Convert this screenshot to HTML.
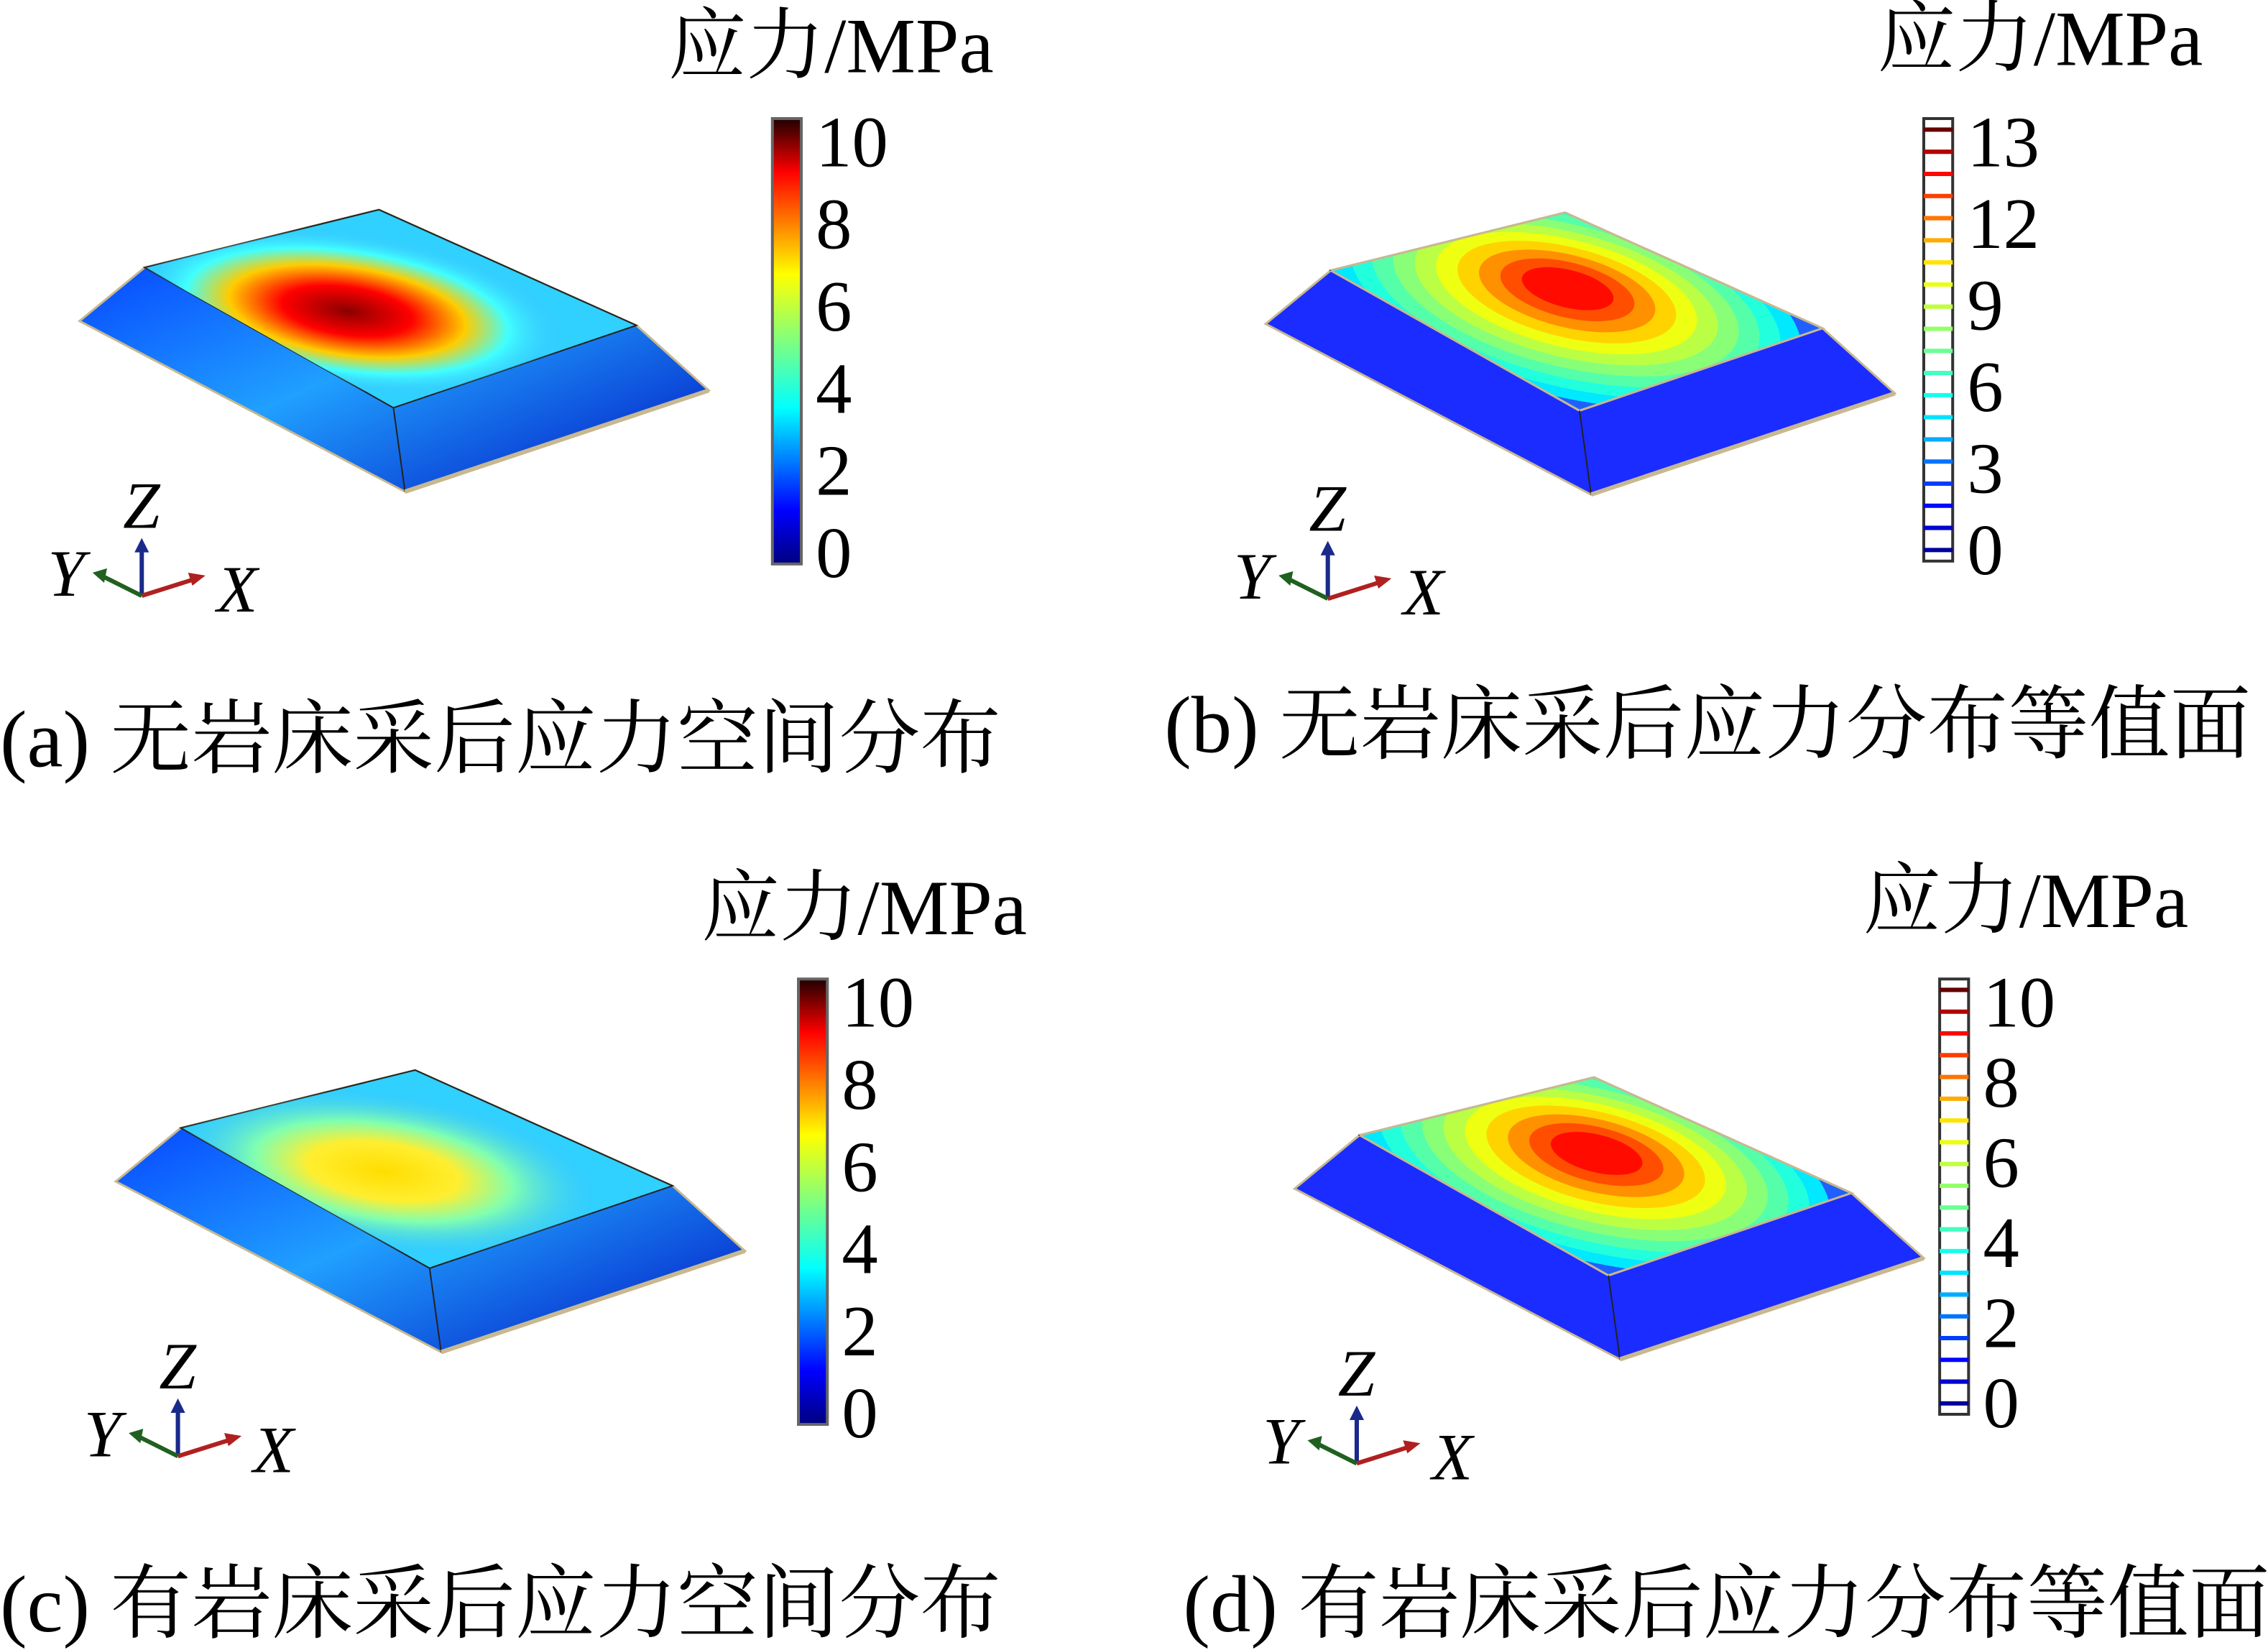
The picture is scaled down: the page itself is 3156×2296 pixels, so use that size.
<!DOCTYPE html>
<html><head><meta charset="utf-8"><style>
html,body{margin:0;padding:0;background:#fff;}
svg{display:block;}
text{font-family:"Liberation Serif","Noto Serif CJK SC","Noto Sans CJK SC",serif;fill:#000;}
</style></head><body>
<svg id="fig" width="3156" height="2296" viewBox="0 0 1568 1141" preserveAspectRatio="none">
<defs>
<linearGradient id="jet" x1="0" y1="1" x2="0" y2="0">
<stop offset="0" stop-color="#00007f"/><stop offset="0.12" stop-color="#0000ff"/><stop offset="0.35" stop-color="#00ffff"/><stop offset="0.5" stop-color="#7fff7f"/><stop offset="0.65" stop-color="#ffff00"/><stop offset="0.88" stop-color="#ff0000"/><stop offset="1" stop-color="#200000"/>
</linearGradient>
<radialGradient id="heatA" cx="0.5" cy="0.5" r="0.5">
<stop offset="0" stop-color="#8b0000"/><stop offset="0.3" stop-color="#ff0000"/><stop offset="0.55" stop-color="#ffcc00"/><stop offset="0.75" stop-color="#40ffff"/><stop offset="1" stop-color="#40c0ff" stop-opacity="0"/>
</radialGradient>
<radialGradient id="heatC" cx="0.5" cy="0.5" r="0.5">
<stop offset="0" stop-color="#ffdd00"/><stop offset="0.35" stop-color="#ffee30"/><stop offset="0.6" stop-color="#80ffb0"/><stop offset="1" stop-color="#40c0ff" stop-opacity="0"/>
</radialGradient>
<linearGradient id="slabA" x1="0" y1="0" x2="1" y2="1">
<stop offset="0" stop-color="#0030ff"/><stop offset="0.5" stop-color="#20a0ff"/><stop offset="1" stop-color="#0010c0"/>
</linearGradient>
<clipPath id="topClip"><polygon points="100,185 262,145 440,225 272,282"/></clipPath>
</defs>
<g id="root"></g>
</svg>
<script>
const panelLabels = ["(a) 无岩床采后应力空间分布","(b) 无岩床采后应力分布等值面","(c) 有岩床采后应力空间分布","(d) 有岩床采后应力分布等值面"];
const ticksA = [0,2,4,6,8,10];
const ticksB = [0,3,6,9,12,13];
const ticksC = [0,2,4,6,8,10];
const ticksD = [0,2,4,6,8,10];
const isoLevels = [0.05,0.15,0.25,0.35,0.45,0.55,0.65,0.75,0.85,0.95];
const NS="http://www.w3.org/2000/svg";
const root=document.getElementById('root');
function mk(tag,attrs,parent){const e=document.createElementNS(NS,tag);for(const k in attrs)e.setAttribute(k,attrs[k]);(parent||root).appendChild(e);return e;}
function jet(t){const s=[[0,[0,0,127]],[0.12,[0,0,255]],[0.35,[0,255,255]],[0.5,[127,255,127]],[0.65,[255,255,0]],[0.88,[255,0,0]],[1,[60,0,0]]];for(let i=1;i<s.length;i++){if(t<=s[i][0]){const a=s[i-1],b=s[i],f=(t-a[0])/(b[0]-a[0]);return 'rgb('+a[1].map((v,j)=>Math.round(v+(b[1][j]-v)*f)).join(',')+')';}}return 'rgb(60,0,0)';}

function panel(ox,oy,cfg){
  const g=mk('g',{transform:'translate('+ox+','+oy+')'});
  
  
  const slab=mk('polygon',{points:'55,222 100,185 262,145 440,225 490,270 280,340',fill:cfg.iso?'#1a2cff':'url(#slabA)',stroke:'#c8b890','stroke-width':'1.5'},g);
  
  
  const top=mk('polygon',{points:'100,185 262,145 440,225 272,282',fill:cfg.iso?'#2060ff':'#30d0ff',stroke:'#222','stroke-width':'1'},g);
  
  
  const inner=mk('g',{'clip-path':'url(#topClip)'},g);
  if(cfg.iso){
    for(let i=0;i<isoLevels.length;i++){
      const f=1-isoLevels[i];
      const e=mk('ellipse',{cx:262,cy:205-isoLevels[i]*8,rx:25+150*f,ry:10+60*f,fill:jet(0.3+isoLevels[i]*0.6),transform:'rotate(14 262 205)'},inner);
      
      
    }
    mk('polyline',{points:'100,185 262,145 440,225 272,282 100,185',fill:'none',stroke:'#c8b890','stroke-width':'1.5'},g);
  } else {
    const h=mk('ellipse',{cx:240,cy:215,rx:150,ry:55,fill:cfg.heat,transform:'rotate(8 240 215)'},inner);
    
    
  }
  mk('line',{x1:272,y1:282,x2:280,y2:340,stroke:'#222','stroke-width':'1'},g);
  mk('line',{x1:280,y1:340,x2:490,y2:270,stroke:'#c8b890','stroke-width':'3'},g);
  const ax=mk('g',{},g);
  
  
  mk('line',{x1:98,y1:412,x2:98,y2:378,stroke:'#1a2a8a','stroke-width':'3'},ax);
  mk('polygon',{points:'93,382 98,372 103,382',fill:'#1a2a8a'},ax);
  mk('line',{x1:98,y1:412,x2:136,y2:400,stroke:'#b02020','stroke-width':'3'},ax);
  mk('polygon',{points:'130,396 142,398 133,405',fill:'#b02020'},ax);
  mk('line',{x1:98,y1:412,x2:70,y2:398,stroke:'#206020','stroke-width':'3'},ax);
  mk('polygon',{points:'74,393 64,396 72,403',fill:'#206020'},ax);
  const tz=mk('text',{x:85,y:365,'font-size':46,'font-style':'italic'},ax);tz.textContent='Z';
  const ty=mk('text',{x:33,y:412,'font-size':46,'font-style':'italic'},ax);ty.textContent='Y';
  const tx=mk('text',{x:150,y:423,'font-size':46,'font-style':'italic'},ax);tx.textContent='X';
}

function colorbar(x,y0,y1,ticks,iso,titleX,titleY,name){
  const g=mk('g',{});
  
  
  const t=mk('text',{x:titleX,y:titleY,'font-size':54},g);t.textContent='应力/MPa';
  
  
  const w=20;
  if(iso){
    mk('rect',{x:x,y:y0,width:w,height:y1-y0,fill:'#fff',stroke:'#333','stroke-width':'2'},g);
    const n=isoLevels.length*2;
    for(let i=0;i<n;i++){const v=(i+0.5)/n;const yy=y1-(y1-y0)*v;
      mk('line',{x1:x,x2:x+w,y1:yy,y2:yy,stroke:jet(v),'stroke-width':'3'},g);}
  } else {
    mk('rect',{x:x,y:y0,width:w,height:y1-y0,fill:'url(#jet)',stroke:'#666','stroke-width':'2'},g);
  }
  const mn=ticks[0],mx=ticks[ticks.length-1];
  const a=y0+16,b=y1-8;
  ticks.forEach((v,i)=>{
    let yy=b-(b-a)*(v-mn)/(mx-mn);
    if(ticks===ticksB){yy=b-(b-a)*(i/(ticks.length-1));}
    const tl=mk('text',{x:x+w+10,y:yy+17,'font-size':50},g);tl.textContent=v;
    
    
  });
}

panel(0,0,{name:'panel-a',heat:'url(#heatA)'});
panel(820,2,{name:'panel-b',iso:true});
panel(25,595,{name:'panel-c',heat:'url(#heatC)'});
panel(840,600,{name:'panel-d',iso:true});
colorbar(534,82,390,ticksA,false,462,50,'colorbar-a');
colorbar(1330,82,388,ticksB,true,1298,45,'colorbar-b');
colorbar(552,677,985,ticksC,false,485,646,'colorbar-c');
colorbar(1341,677,978,ticksD,true,1288,641,'colorbar-d');
const capPos=[[0,530],[805,520],[0,1128],[818,1128]];
panelLabels.forEach((s,i)=>{
  const c=mk('text',{x:capPos[i][0],y:capPos[i][1],'font-size':56});
  c.textContent=s;
  
  
});
</script>
</body></html>
